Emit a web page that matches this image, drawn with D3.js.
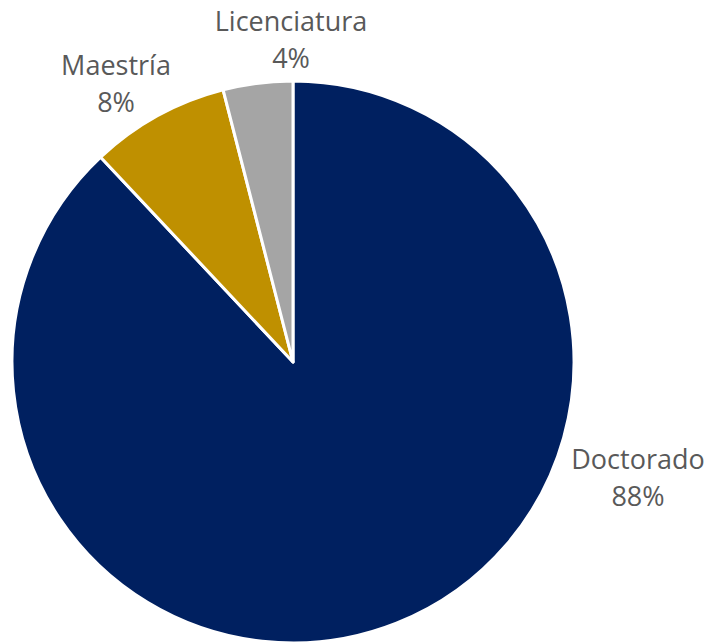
<!DOCTYPE html>
<html>
<head>
<meta charset="utf-8">
<script src="https://cdn.jsdelivr.net/npm/d3@7"></script>
<style>
  body { margin: 0; background: #fff; }
  svg text { font-family: "Open Sans", "Noto Sans", sans-serif; fill: #595959; }
</style>
</head>
<body>
<div id="chart"></div>
<script>
// chart data
var categories = ["Doctorado", "Maestría", "Licenciatura"];
var values = [88, 8, 4];
var colors = ["#002060", "#BF9000", "#A5A5A5"];

var w = 709, h = 643;
var cx = 293, cy = 362, radius = 281;

// label placement (name baseline), relative to the pie centre
var labelOffsets = [[345, 107], [-177, -287], [-2, -331]];

var svg = d3.select("#chart").append("svg").attr("width", w).attr("height", h);
var g = svg.append("g").attr("transform", "translate(" + cx + "," + cy + ")");

var pie = d3.pie().sort(null).value(function (d) { return d; });
var arc = d3.arc().innerRadius(0).outerRadius(radius);
var slices = pie(values);

g.selectAll("path")
    .data(slices)
    .enter().append("path")
    .attr("d", arc)
    .attr("fill", function (d, i) { return colors[i]; })
    .attr("stroke", "#fff")
    .attr("stroke-width", 3)
    .attr("stroke-linejoin", "round");

var total = d3.sum(values);
var labels = g.selectAll("text.lbl")
    .data(slices)
    .enter().append("text")
    .attr("class", "lbl")
    .attr("text-anchor", "middle")
    .attr("font-size", 27)
    .attr("transform", function (d, i) {
        return "translate(" + labelOffsets[i][0] + "," + labelOffsets[i][1] + ")";
    });

labels.append("tspan")
    .attr("x", 0).attr("y", 0)
    .text(function (d, i) { return categories[i]; });
labels.append("tspan")
    .attr("x", 0).attr("y", 37)
    .text(function (d) { return Math.round(d.value / total * 100) + "%"; });
</script>
</body>
</html>
